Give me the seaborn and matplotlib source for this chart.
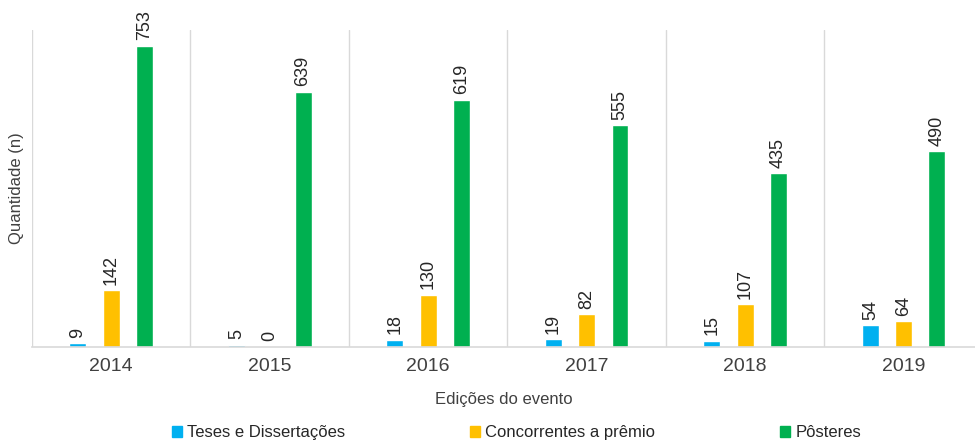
import pandas as pd
import matplotlib.pyplot as plt
import seaborn as sns

# Dados do gráfico
anos = ['2014', '2015', '2016', '2017', '2018', '2019']
teses = [9, 5, 18, 19, 15, 54]
concorrentes = [142, 0, 130, 82, 107, 64]
posteres = [753, 639, 619, 555, 435, 490]
series = ['Teses e Dissertações', 'Concorrentes a prêmio', 'Pôsteres']
cores = ['#00B0F0', '#FFC000', '#00B050']

df = pd.DataFrame({
    'Ano': anos * 3,
    'Categoria': [series[0]] * 6 + [series[1]] * 6 + [series[2]] * 6,
    'Quantidade': teses + concorrentes + posteres,
})

sns.set_style("white")
plt.rcParams['font.family'] = ['Liberation Sans', 'DejaVu Sans']

fig = plt.figure(figsize=(9.75, 4.44), dpi=100)
ax = fig.add_axes([32 / 975, 1 - 347 / 444, 1 - 32 / 975, (347 - 30) / 444])

sns.barplot(data=df, x='Ano', y='Quantidade', hue='Categoria', palette=cores,
            saturation=1, width=0.63, gap=0.49, ax=ax, legend=False)

# Rótulos de valores
for container in ax.containers:
    ax.bar_label(container, rotation=90, padding=4, fontsize=13, color='#262626')

# Linhas separadoras entre edições
for i in range(len(anos) + 1):
    ax.axvline(i - 0.5, color='#D9D9D9', linewidth=1, zorder=0)

ax.set_xlim(-0.5, 5.45)
ax.set_ylim(0, 793)
ax.set_yticks([])
for lado in ['top', 'right', 'left']:
    ax.spines[lado].set_visible(False)
ax.spines['bottom'].set_color('#D9D9D9')
ax.spines['bottom'].set_linewidth(1.2)
ax.tick_params(axis='x', length=0, pad=8, labelsize=14, labelcolor='#404040')

ax.set_xlabel('Edições do evento', fontsize=12, color='#404040', labelpad=12)
ax.set_ylabel('Quantidade (n)', fontsize=12, color='#404040', labelpad=6)

# Legenda inferior
handles = [plt.Rectangle((0, 0), 1, 1, color=c) for c in cores]
fig.legend(handles, series, loc='lower center', bbox_to_anchor=(0.53, -0.025),
           ncol=3, frameon=False, fontsize=12, handlelength=0.6, handleheight=0.6,
           handletextpad=0.3, columnspacing=7.5, labelcolor='#262626')

fig.savefig('out.png', dpi=100)
plt.close(fig)
